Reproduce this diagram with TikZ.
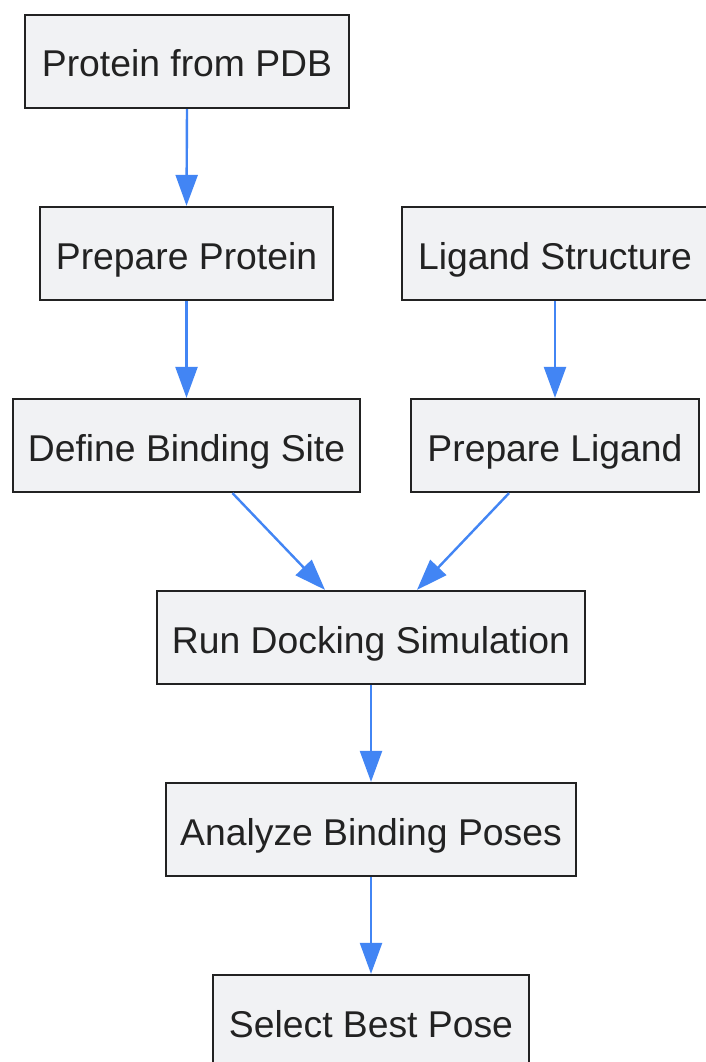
\documentclass[tikz,border=0pt]{standalone}
\usepackage{fontspec}
\setmainfont{Liberation Sans}
\usetikzlibrary{arrows.meta}
\definecolor{boxfill}{RGB}{241,242,244}
\definecolor{boxline}{RGB}{34,34,34}
\definecolor{arrowblue}{RGB}{66,133,244}
\definecolor{txt}{RGB}{34,34,34}
\begin{document}
\begin{tikzpicture}[x=1pt,y=1pt,
  box/.style={draw=boxline,fill=boxfill,line width=2.3pt,rectangle,minimum height=93pt,inner sep=0pt,text=txt,text height=31pt,text depth=0pt,font=\fontsize{37.3}{40}\selectfont},
  arr/.style={draw=arrowblue,line width=2.4pt,-{Triangle[width=22pt,length=31pt]}}]
\useasboundingbox (0,0) rectangle (705,-1062);
\fill[white] (0,0) rectangle (705,-1062);
\node[box,minimum width=324pt] (pdb) at (187,-61.5) {Protein from PDB};
\node[box,minimum width=293pt] (prep) at (186.5,-253.5) {Prepare Protein};
\node[box,minimum width=306pt] (lig) at (555,-253.5) {Ligand Structure};
\node[box,minimum width=347pt] (site) at (186.5,-445.5) {Define Binding Site};
\node[box,minimum width=288pt] (pligand) at (555,-445.5) {Prepare Ligand};
\node[box,minimum width=428pt] (run) at (371,-637.5) {Run Docking Simulation};
\node[box,minimum width=410pt] (ana) at (371,-829.5) {Analyze Binding Poses};
\node[box,minimum width=316pt] (best) at (371,-1021.5) {Select Best Pose};
\draw[arr] (pdb.south) -- (prep.north);
\draw[arr] (prep.south) -- (site.north);
\draw[arr] (lig.south) -- (pligand.north);
\draw[arr] ([xshift=46pt]site.south) -- ([xshift=-46pt]run.north);
\draw[arr] ([xshift=-46pt]pligand.south) -- ([xshift=46pt]run.north);
\draw[arr] (run.south) -- (ana.north);
\draw[arr] (ana.south) -- (best.north);
\end{tikzpicture}
\end{document}
